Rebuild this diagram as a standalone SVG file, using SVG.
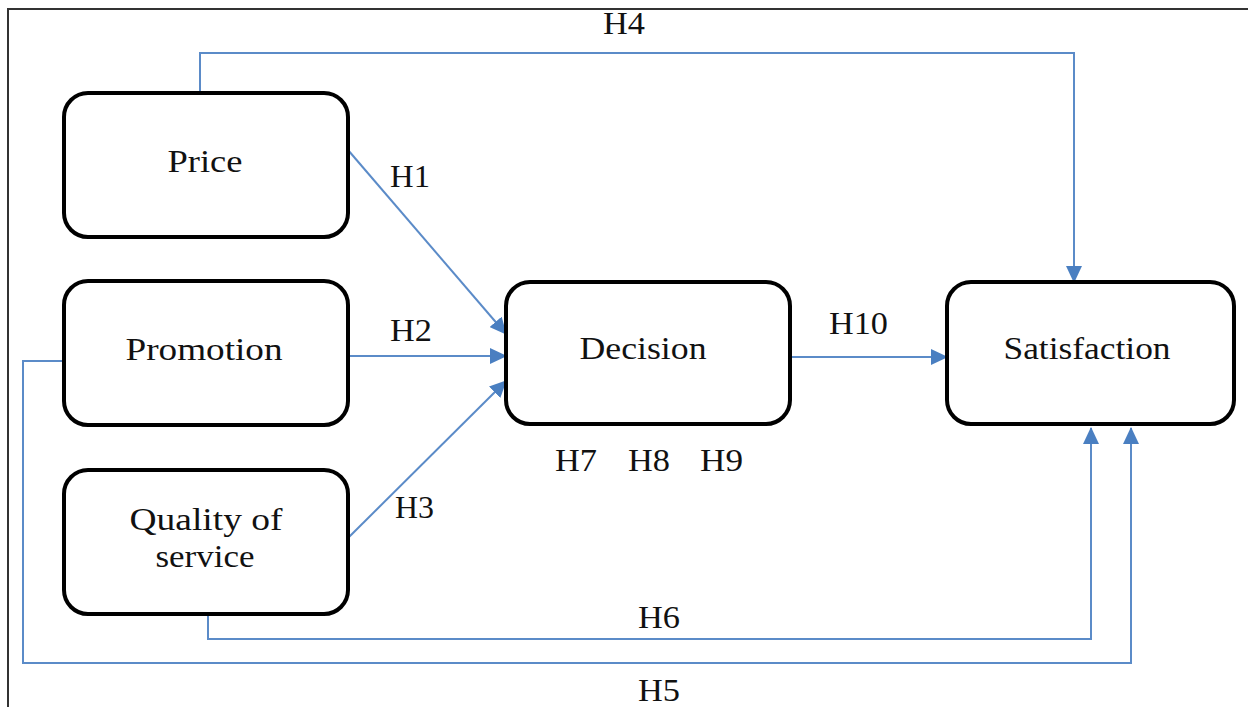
<svg xmlns="http://www.w3.org/2000/svg" width="1248" height="707" viewBox="0 0 1248 707">
<style>
.node{fill:#fff;stroke:#000;stroke-width:4}
.lbl{font-family:"Liberation Serif","Times New Roman",serif;font-size:32px;fill:#111;text-anchor:middle}
.h{font-family:"Liberation Serif","Times New Roman",serif;font-size:32px;fill:#111}
.con{fill:none;stroke:#5b8bc8;stroke-width:2}
.frame{fill:none;stroke:#333;stroke-width:2}
</style>
<defs>
<marker id="arrB" markerWidth="17" markerHeight="16" refX="16" refY="8" orient="auto" markerUnits="userSpaceOnUse" viewBox="0 0 17 16">
<path d="M0,0 L17,8 L0,16 z" fill="#4a7fc1"/>
</marker>
</defs>
<rect width="1248" height="707" fill="#fff"/>
<path class="frame" d="M8,707 V9 H1248"/>
<g id="connectors">
<path class="con" d="M190,93 H200 V53 H1074 V282" marker-end="url(#arrB)"/>
<path class="con" d="M348,150 L506,334" marker-end="url(#arrB)"/>
<path class="con" d="M348,356 H506" marker-end="url(#arrB)"/>
<path class="con" d="M348,538 L506,381" marker-end="url(#arrB)"/>
<path class="con" d="M790,357 H947" marker-end="url(#arrB)"/>
<path class="con" d="M64,361 H23 V663 H1131 V428" marker-end="url(#arrB)"/>
<path class="con" d="M208,614 V639 H1091 V428" marker-end="url(#arrB)"/>
</g>
<g id="price"><rect class="node" x="64" y="93" width="284" height="144" rx="24"/><text class="lbl" x="205" y="172" textLength="75" lengthAdjust="spacingAndGlyphs">Price</text></g>
<g id="promotion"><rect class="node" x="64" y="281" width="284" height="144" rx="24"/><text class="lbl" x="204" y="360" textLength="157" lengthAdjust="spacingAndGlyphs">Promotion</text></g>
<g id="quality"><rect class="node" x="64" y="470" width="284" height="144" rx="24"/><text class="lbl" x="206" y="530" textLength="153" lengthAdjust="spacingAndGlyphs">Quality of</text><text class="lbl" x="205" y="567" textLength="99" lengthAdjust="spacingAndGlyphs">service</text></g>
<g id="decision"><rect class="node" x="506" y="282" width="284" height="142" rx="24"/><text class="lbl" x="643" y="359" textLength="127" lengthAdjust="spacingAndGlyphs">Decision</text></g>
<g id="satisfaction"><rect class="node" x="947" y="282" width="287" height="142" rx="24"/><text class="lbl" x="1087" y="359" textLength="167" lengthAdjust="spacingAndGlyphs">Satisfaction</text></g>
<g id="labels">
<text class="h" x="603" y="34" textLength="42" lengthAdjust="spacingAndGlyphs">H4</text>
<text class="h" x="390" y="187" textLength="40" lengthAdjust="spacingAndGlyphs">H1</text>
<text class="h" x="390" y="341" textLength="42" lengthAdjust="spacingAndGlyphs">H2</text>
<text class="h" x="395" y="518" textLength="39" lengthAdjust="spacingAndGlyphs">H3</text>
<text class="h" x="829" y="334" textLength="59" lengthAdjust="spacingAndGlyphs">H10</text>
<text class="h" x="555" y="471" textLength="42" lengthAdjust="spacingAndGlyphs">H7</text>
<text class="h" x="628" y="471" textLength="42" lengthAdjust="spacingAndGlyphs">H8</text>
<text class="h" x="700" y="471" textLength="43" lengthAdjust="spacingAndGlyphs">H9</text>
<text class="h" x="638" y="628" textLength="42" lengthAdjust="spacingAndGlyphs">H6</text>
<text class="h" x="638" y="701" textLength="42" lengthAdjust="spacingAndGlyphs">H5</text>
</g>
</svg>
